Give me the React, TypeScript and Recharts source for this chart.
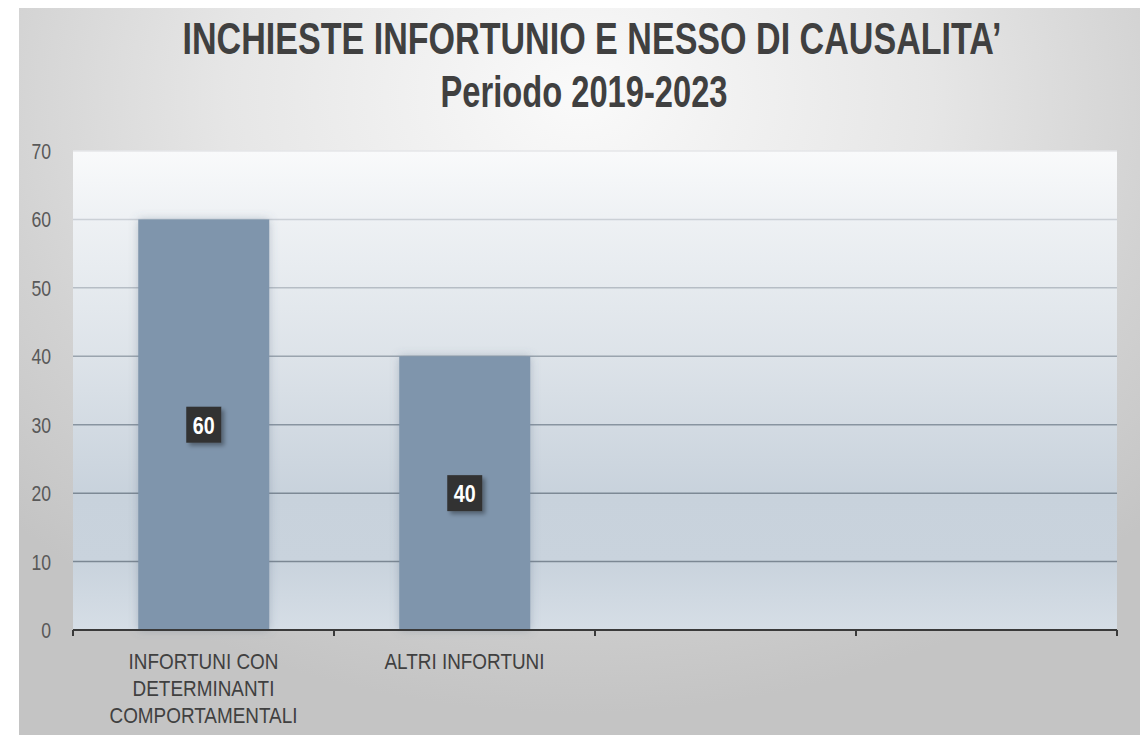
import React from "react";
import { BarChart, Bar, XAxis, YAxis, CartesianGrid, LabelList } from "recharts";

const categories = ["INFORTUNI CON\nDETERMINANTI\nCOMPORTAMENTALI", "ALTRI INFORTUNI", "", ""];
const values: (number | null)[] = [60, 40, null, null];
const yTicks = [0, 10, 20, 30, 40, 50, 60, 70];
const titleLines = ["INCHIESTE INFORTUNIO E NESSO DI CAUSALITA\u2019", "Periodo 2019-2023"];

const data = categories.map((c, i) => ({ name: c, value: values[i] }));

const W = 1140;
const H = 735;
const M = { top: 151, right: 23, bottom: 0, left: 0 };
const Y_W = 73;
const X_H = 105;
const FONT = "'Liberation Sans', Arial, sans-serif";
const TITLE_SCALE = 0.82;

const gridColors = ["#ffffff", "#7b8793", "#7d8995", "#8894a0", "#9aa4ae", "#b6bdc5", "#cbd0d6", "#e4e6e8"];

function squeeze(x: number, s: number) {
  return `translate(${x},0) scale(${s},1) translate(${-x},0)`;
}

function GridLine(props: any) {
  const { x1, x2, y1, y2, index } = props;
  const idx = typeof index === "number" ? index : 0;
  if (idx === 0) return <g />;
  return <line x1={x1} x2={x2} y1={y1} y2={y2} stroke={gridColors[idx] || "#8894a0"} strokeWidth={1.5} />;
}

function YTick(props: any) {
  const { x, y, payload } = props;
  return (
    <text
      x={x}
      y={y + 8}
      textAnchor="end"
      fontFamily={FONT}
      fontSize={22}
      fill="#595959"
      transform={squeeze(x, 0.8)}
    >
      {payload.value}
    </text>
  );
}

function XTick(props: any) {
  const { x, y, payload, index, visibleTicksCount } = props;
  const n = visibleTicksCount || categories.length;
  const band = (W - M.left - M.right - Y_W) / n;
  const lines = String(payload.value).split("\n");
  return (
    <g>
      <line x1={x - band / 2} x2={x - band / 2} y1={y} y2={y + 6} stroke="#3a3a3a" strokeWidth={2} />
      {index === n - 1 && (
        <line x1={x + band / 2} x2={x + band / 2} y1={y} y2={y + 6} stroke="#3a3a3a" strokeWidth={2} />
      )}
      <text
        x={x}
        y={y + 39}
        textAnchor="middle"
        fontFamily={FONT}
        fontSize={22}
        fill="#404040"
        transform={squeeze(x, 0.86)}
      >
        {lines.map((l, i) => (
          <tspan key={i} x={x} dy={i === 0 ? 0 : 27}>
            {l}
          </tspan>
        ))}
      </text>
    </g>
  );
}

function BarShape(props: any) {
  const { x, y, width, height, fill } = props;
  if (!height || height <= 0) return <g />;
  return <rect x={x} y={y} width={width} height={height} fill={fill} filter="url(#barShadow)" />;
}

function ValueLabel(props: any) {
  const { x, y, width, height, value } = props;
  if (value === null || value === undefined) return <g />;
  const cx = x + width / 2;
  const cy = y + height / 2;
  const bw = 35;
  const bh = 36;
  return (
    <g>
      <rect x={cx - bw / 2} y={cy - bh / 2} width={bw} height={bh} fill="#333333" filter="url(#boxShadow)" />
      <text
        x={cx}
        y={cy + 9}
        textAnchor="middle"
        fontFamily={FONT}
        fontWeight="bold"
        fontSize={24}
        fill="#ffffff"
        transform={squeeze(cx, 0.82)}
      >
        {value}
      </text>
    </g>
  );
}

export default function App() {
  return (
    <div style={{ position: "absolute", left: 0, top: 0, width: W, height: H, background: "#ffffff", overflow: "hidden" }}>
      <div
        style={{
          position: "absolute",
          left: 19,
          top: 8,
          width: W - 19,
          height: H - 8,
          background:
            "radial-gradient(ellipse 70% 85% at 50% 12%, #fafafa 0%, #e6e6e6 45%, #d2d2d2 75%, #c4c4c4 100%)",
        }}
      />
      <svg width={W} height={140} style={{ position: "absolute", left: 0, top: 0 }}>
        <defs>
          <linearGradient id="plotGrad" x1="0" y1="0" x2="0" y2="1">
            <stop offset="0" stopColor="#f9fafb" />
            <stop offset="0.14" stopColor="#eef1f4" />
            <stop offset="0.43" stopColor="#dde3e9" />
            <stop offset="0.72" stopColor="#c8d2dc" />
            <stop offset="0.86" stopColor="#c9d3dd" />
            <stop offset="1" stopColor="#d6dee6" />
          </linearGradient>
          <filter id="barShadow" x="-20%" y="-10%" width="140%" height="120%">
            <feDropShadow dx="0" dy="0" stdDeviation="5" floodColor="#5a6f85" floodOpacity="0.35" />
          </filter>
          <filter id="boxShadow" x="-30%" y="-30%" width="170%" height="170%">
            <feDropShadow dx="3" dy="3" stdDeviation="2" floodColor="#000000" floodOpacity="0.35" />
          </filter>
        </defs>
        <text
          x={592}
          y={54}
          textAnchor="middle"
          fontFamily={FONT}
          fontWeight="bold"
          fontSize={44}
          fill="#404040"
          transform={squeeze(592, TITLE_SCALE)}
          textLength={819 / TITLE_SCALE}
          lengthAdjust="spacingAndGlyphs"
        >
          {titleLines[0]}
        </text>
        <text
          x={584}
          y={107}
          textAnchor="middle"
          fontFamily={FONT}
          fontWeight="bold"
          fontSize={44}
          fill="#404040"
          transform={squeeze(584, TITLE_SCALE)}
          textLength={287 / TITLE_SCALE}
          lengthAdjust="spacingAndGlyphs"
        >
          {titleLines[1]}
        </text>
      </svg>
      <div style={{ position: "absolute", left: 0, top: 0 }}>
        <BarChart width={W} height={H} data={data} margin={M} barCategoryGap="25%">
          <CartesianGrid vertical={false} horizontal={GridLine as any} fill="url(#plotGrad)" />
          <YAxis
            width={Y_W}
            domain={[0, 70]}
            ticks={yTicks}
            axisLine={false}
            tickLine={false}
            tickSize={0}
            tickMargin={22}
            tick={YTick as any}
          />
          <XAxis
            dataKey="name"
            height={X_H}
            interval={0}
            axisLine={{ stroke: "#3a3a3a", strokeWidth: 2 }}
            tickLine={false}
            tickSize={0}
            tickMargin={0}
            tick={XTick as any}
          />
          <Bar dataKey="value" fill="#7f95ac" isAnimationActive={false} shape={BarShape as any}>
            <LabelList dataKey="value" content={ValueLabel as any} />
          </Bar>
        </BarChart>
      </div>
    </div>
  );
}
